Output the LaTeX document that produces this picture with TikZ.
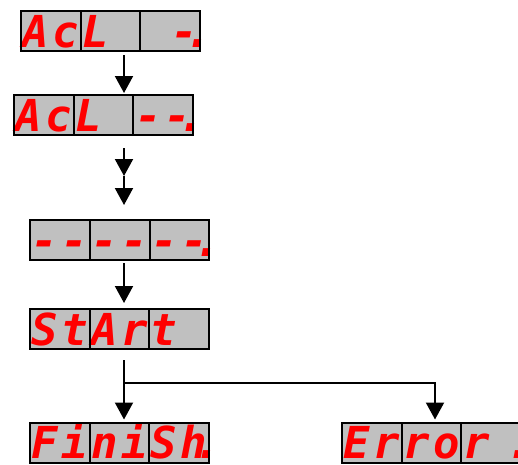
\documentclass[tikz,border=0pt]{standalone}
\usepackage{fontspec}
\usetikzlibrary{positioning,arrows.meta}
\newfontfamily\segfont{DejaVu Sans Mono}
\definecolor{lcdgray}{HTML}{C0C0C0}
\definecolor{segred}{HTML}{FF0000}
% two digits of one cell, and a decimal point
\newcommand{\dg}[2]{\makebox[29.8pt]{#1}\makebox[29.8pt]{#2}}
\newcommand{\sdot}{\rlap{\kern-.3em.}}
\tikzset{
  cell/.style={fill=lcdgray, minimum width=59.7pt,
    minimum height=40pt, inner sep=0pt, outer sep=0pt, text=segred,
    text height=32pt, text depth=0pt,
    font=\segfont\bfseries\itshape\fontsize{44}{44}\selectfont},
  frame/.style={line width=2pt},
  arr/.style={line width=2pt, -{Triangle[width=18pt,length=17pt]}}
}
\begin{document}
\begin{tikzpicture}[x=1pt,y=1pt]
  \clip (0,0) rectangle (518,-464);
  \coordinate (ax) at (124,0);
  % AcL -.
  \node[cell] (a1) at (50.8,-31) {\dg{A}{c}};
  \node[cell, right=0pt of a1] (a2) {\dg{L}{}};
  \node[cell, right=0pt of a2] (a3) {\dg{}{-\sdot}};
  % AcL --.
  \node[cell] (b1) at (43.8,-115) {\dg{A}{c}};
  \node[cell, right=0pt of b1] (b2) {\dg{L}{}};
  \node[cell, right=0pt of b2] (b3) {\dg{-}{-\sdot}};
  % ------.
  \node[cell] (c1) at (60,-240) {\dg{-}{-}};
  \node[cell, right=0pt of c1] (c2) {\dg{-}{-}};
  \node[cell, right=0pt of c2] (c3) {\dg{-}{-\sdot}};
  % StArt
  \node[cell] (d1) at (59.7,-329) {\dg{S}{t}};
  \node[cell, right=0pt of d1] (d2) {\dg{A}{r}};
  \node[cell, right=0pt of d2] (d3) {\dg{t}{}};
  % FiniSh.
  \node[cell] (e1) at (59.7,-442.5) {\dg{F}{i}};
  \node[cell, right=0pt of e1] (e2) {\dg{n}{i}};
  \node[cell, right=0pt of e2] (e3) {\dg{S}{h\sdot}};
  % Error.
  \node[cell] (f1) at (371.8,-442.5) {\dg{E}{r}};
  \node[cell, right=0pt of f1] (f2) {\dg{r}{o}};
  \node[cell, right=0pt of f2] (f3) {\dg{r}{\phantom{-}\sdot}};
  % cell borders on top of the fills
  \foreach \n in {a1,a2,a3,b1,b2,b3,c1,c2,c3,d1,d2,d3,e1,e2,e3,f1,f2,f3}
    \draw[frame] (\n.north west) rectangle (\n.south east);

  \coordinate (t1) at (124,-176);
  \coordinate (t2) at (124,-205);
  \coordinate (br) at (124,-382.7);
  \coordinate (bx) at (435,0);
  \draw[arr, shorten <=4pt, shorten >=2pt] (a2.south -| ax) -- (b2.north -| ax);
  \draw[arr, shorten <=13pt] (b2.south -| ax) -- (t1);
  \draw[arr] (t1) -- (t2);
  \draw[arr, shorten <=3pt, shorten >=6pt] (c2.south -| ax) -- (d2.north -| ax);
  \draw[arr, shorten <=11pt, shorten >=3pt] (d2.south -| ax) -- (e2.north -| ax);
  \draw[arr, shorten >=3pt] (br) -| (f2.north -| bx);
\end{tikzpicture}
\end{document}
